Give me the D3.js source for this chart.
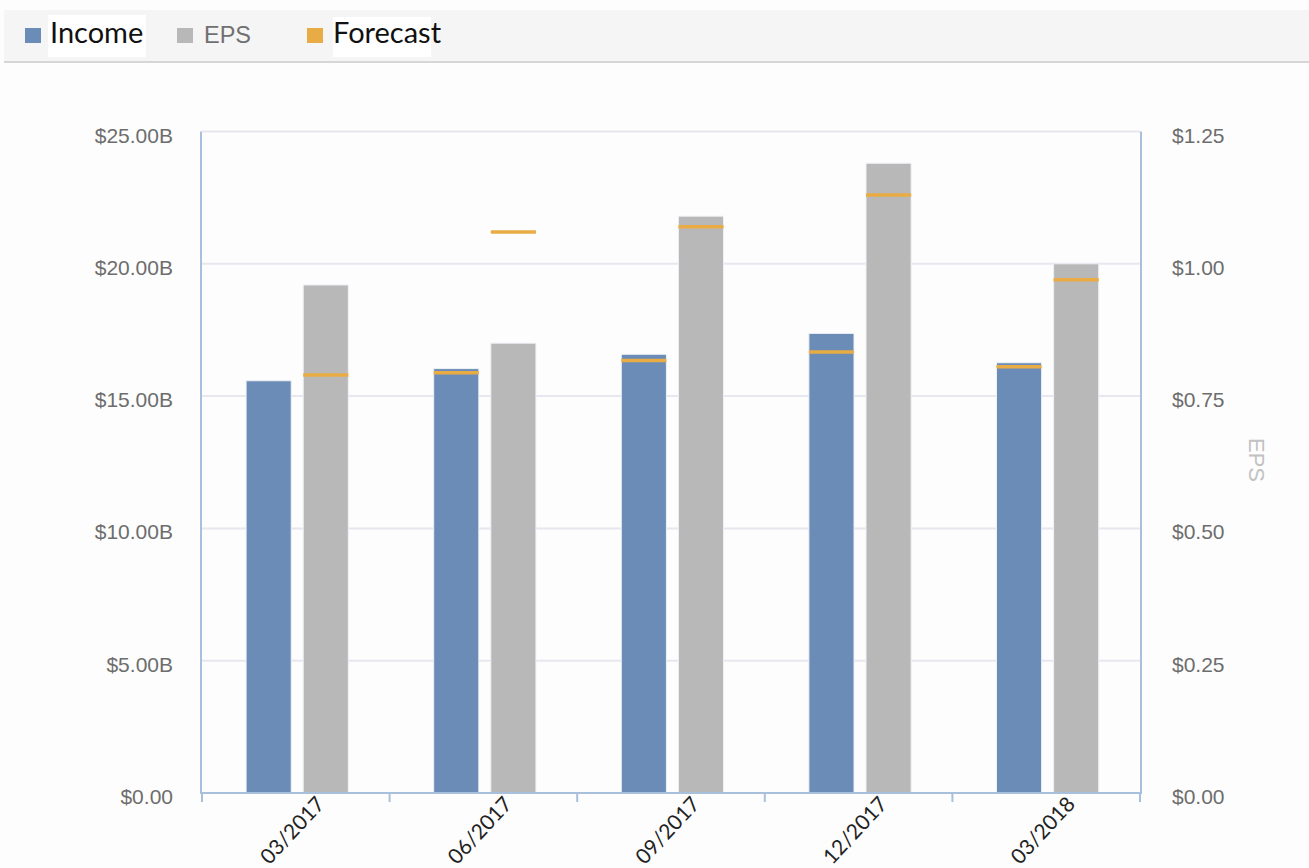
<!DOCTYPE html>
<html>
<head>
<meta charset="utf-8">
<script src="https://cdn.jsdelivr.net/npm/d3@7"></script>
<style>
	body { margin: 0; background: #fdfdfd; }
	svg { display: block; }
</style>
</head>
<body>
<svg id="chart" width="1309" height="868"></svg>
<script>
var quarters = ["03/2017", "06/2017", "09/2017", "12/2017", "03/2018"];
var income = [15.58, 16.04, 16.58, 17.37, 16.26]; // $ billions
var incomeForecast = [null, 15.88, 16.35, 16.67, 16.11];
var eps = [0.96, 0.85, 1.09, 1.19, 1.00];
var epsForecast = [0.79, 1.06, 1.07, 1.13, 0.97];
var incomeTicks = [0, 5, 10, 15, 20, 25];
var epsTicks = [0, 0.25, 0.5, 0.75, 1, 1.25];
var seriesNames = ["Income", "EPS"];

var svg = d3.select("#chart");

// note: "top" is taken by window.top, so use plot* names
var plotLeft = 202, plotRight = 1140, plotTop = 131.5, plotBottom = 793;

var x = d3.scaleBand().domain(quarters).range([plotLeft, plotRight]);
var bw = x.bandwidth();
var inner = d3.scaleBand().domain(seriesNames)
	.range([bw * 0.235, bw * 0.78])
	.paddingInner(0.21);
var yL = d3.scaleLinear().domain([0, 25]).range([plotBottom, plotTop]);
var yR = d3.scaleLinear().domain([0, 1.25]).range([plotBottom, plotTop]);

var colors = { Income: "#6a8cb7", EPS: "#b8b8b8", Forecast: "#e9ac45" };

// legend band
var legend = svg.append("g").attr("class", "legend");
legend.append("rect")
	.attr("x", 4).attr("y", 10).attr("width", 1305).attr("height", 52)
	.attr("fill", "#f5f5f5");
legend.append("line")
	.attr("x1", 4).attr("x2", 1309).attr("y1", 62).attr("y2", 62)
	.attr("stroke", "#d6d6d6").attr("stroke-width", 2);

var legendItems = [
	{ name: "Income", sx: 25, tx: 50, box: [48, 15, 98, 42], font: "Lato, 'Open Sans', sans-serif", size: 29, fill: "#111" },
	{ name: "EPS", sx: 177, tx: 204, box: null, font: "'Liberation Sans', Arial, sans-serif", size: 23.5, fill: "#707070" },
	{ name: "Forecast", sx: 307, tx: 333, box: [333, 17, 98, 40], font: "Lato, 'Open Sans', sans-serif", size: 29, fill: "#111" }
];
legendItems.forEach(function(d) {
	if (d.box) {
		legend.append("rect")
			.attr("x", d.box[0]).attr("y", d.box[1])
			.attr("width", d.box[2]).attr("height", d.box[3])
			.attr("fill", "#fff");
	}
	legend.append("rect")
		.attr("x", d.sx).attr("y", 28).attr("width", 16).attr("height", 15)
		.attr("fill", colors[d.name]);
	legend.append("text")
		.attr("x", d.tx).attr("y", 43)
		.style("font-family", d.font)
		.style("font-size", d.size + "px")
		.attr("fill", d.fill)
		.text(d.name);
});

// gridlines
svg.append("g").attr("class", "grid")
	.selectAll("line")
	.data(incomeTicks)
	.enter()
	.append("line")
	.attr("x1", plotLeft).attr("x2", plotRight)
	.attr("y1", function(d) { return yL(d); })
	.attr("y2", function(d) { return yL(d); })
	.attr("stroke", "#e7e7ef")
	.attr("stroke-width", 2);

// bars
var rows = quarters.map(function(q, i) {
	return {
		quarter: q,
		values: [
			{ key: "Income", value: income[i], forecast: incomeForecast[i], scale: yL },
			{ key: "EPS", value: eps[i], forecast: epsForecast[i], scale: yR }
		]
	};
});

var groups = svg.append("g").attr("class", "bars")
	.selectAll("g")
	.data(rows)
	.enter()
	.append("g")
	.attr("transform", function(d) { return "translate(" + x(d.quarter) + ",0)"; });

groups.selectAll("rect")
	.data(function(d) { return d.values; })
	.enter()
	.append("rect")
	.attr("x", function(d) { return inner(d.key); })
	.attr("width", inner.bandwidth())
	.attr("y", function(d) { return d.scale(d.value); })
	.attr("height", function(d) { return plotBottom - d.scale(d.value); })
	.attr("fill", function(d) { return colors[d.key]; })
	.attr("stroke", "#eef1f6")
	.attr("stroke-width", 1);

groups.selectAll("line.forecast")
	.data(function(d) { return d.values.filter(function(v) { return v.forecast != null; }); })
	.enter()
	.append("line")
	.attr("class", "forecast")
	.attr("x1", function(d) { return inner(d.key); })
	.attr("x2", function(d) { return inner(d.key) + inner.bandwidth(); })
	.attr("y1", function(d) { return d.scale(d.forecast); })
	.attr("y2", function(d) { return d.scale(d.forecast); })
	.attr("stroke", colors.Forecast)
	.attr("stroke-width", 3.5);

// axes
var axisColor = "#a9c0dd";
var tickFont = "'Liberation Sans', Arial, sans-serif";

var leftAxis = svg.append("g")
	.attr("transform", "translate(" + plotLeft + ",0)")
	.call(d3.axisLeft(yL)
		.tickValues(incomeTicks)
		.tickSize(0)
		.tickPadding(29)
		.tickFormat(function(d) { return d === 0 ? "$0.00" : "$" + d.toFixed(2) + "B"; }));

var rightAxis = svg.append("g")
	.attr("transform", "translate(" + plotRight + ",0)")
	.call(d3.axisRight(yR)
		.tickValues(epsTicks)
		.tickSize(0)
		.tickPadding(32)
		.tickFormat(function(d) { return "$" + d.toFixed(2); }));

[leftAxis, rightAxis].forEach(function(a) {
	a.select(".domain").remove();
	a.selectAll("text")
		.attr("dy", "0.5em")
		.style("font-family", tickFont)
		.style("font-size", "21px")
		.attr("fill", "#6d6d6d");
});

svg.append("line")
	.attr("x1", plotLeft - 1).attr("x2", plotLeft - 1).attr("y1", plotTop).attr("y2", plotBottom)
	.attr("stroke", axisColor).attr("stroke-width", 2);
svg.append("line")
	.attr("x1", plotRight + 1).attr("x2", plotRight + 1).attr("y1", plotTop).attr("y2", plotBottom)
	.attr("stroke", axisColor).attr("stroke-width", 2);

var bottomAxis = svg.append("g")
	.attr("transform", "translate(0," + plotBottom + ")")
	.call(d3.axisBottom(x).tickSize(0).tickPadding(0));
bottomAxis.select(".domain").remove();
bottomAxis.selectAll("text")
	.attr("text-anchor", "end")
	.attr("dy", 0)
	.attr("transform", "translate(30,12) rotate(-47)")
	.style("font-family", "Lato, 'Open Sans', sans-serif")
	.style("font-size", "21px")
	.attr("fill", "#222");

svg.append("line")
	.attr("x1", plotLeft - 2).attr("x2", plotRight + 2).attr("y1", plotBottom).attr("y2", plotBottom)
	.attr("stroke", axisColor).attr("stroke-width", 2);
svg.append("g").selectAll("line")
	.data(quarters.map(function(q) { return x(q); }).concat([plotRight]))
	.enter()
	.append("line")
	.attr("x1", function(d) { return d; }).attr("x2", function(d) { return d; })
	.attr("y1", plotBottom).attr("y2", plotBottom + 9)
	.attr("stroke", axisColor).attr("stroke-width", 2);

// right axis title
svg.append("text")
	.attr("transform", "translate(1249,460) rotate(90)")
	.attr("text-anchor", "middle")
	.style("font-family", tickFont)
	.style("font-size", "22px")
	.attr("fill", "#c2c2c2")
	.text("EPS");
</script>
</body>
</html>
